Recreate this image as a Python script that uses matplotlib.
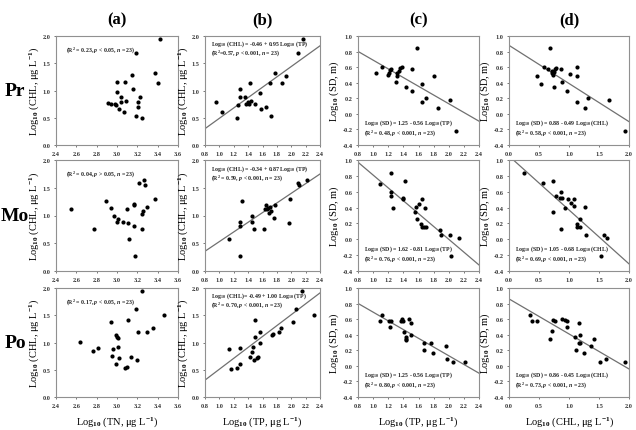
import matplotlib
matplotlib.use("Agg")
import matplotlib.pyplot as plt
import numpy as np

plt.rcParams['font.family'] = ['Liberation Serif', 'DejaVu Serif']
plt.rcParams['font.weight'] = 'bold'
plt.rcParams['mathtext.fontset'] = 'custom'
plt.rcParams['mathtext.rm'] = 'Liberation Serif:bold'
plt.rcParams['mathtext.it'] = 'Liberation Serif:italic:bold'
plt.rcParams['mathtext.bf'] = 'Liberation Serif:bold'

# ---- data ----
# Pr
pr_a_x = [2.91, 2.94, 2.98, 3.00, 3.00, 2.99, 3.02, 3.04, 3.04, 3.07, 3.08, 3.09, 3.15, 3.16, 3.19, 3.19, 3.21, 3.21, 3.23, 3.25, 3.37, 3.40, 3.42]
pr_a_y = [0.77, 0.76, 0.76, 1.15, 0.97, 0.73, 0.66, 0.88, 0.79, 0.61, 1.15, 0.81, 1.28, 1.03, 1.68, 0.54, 0.70, 0.79, 0.88, 0.49, 1.32, 1.14, 1.95]
pr_b_x = [0.95, 1.03, 1.25, 1.26, 1.28, 1.29, 1.36, 1.37, 1.40, 1.41, 1.43, 1.44, 1.49, 1.57, 1.58, 1.65, 1.70, 1.72, 1.77, 1.87, 1.93, 2.09, 2.17]
pr_b_y = [0.79, 0.61, 0.49, 0.73, 1.02, 0.88, 0.88, 0.76, 0.78, 0.76, 1.14, 0.81, 0.76, 0.96, 0.66, 0.70, 1.13, 0.54, 1.32, 1.14, 1.27, 1.68, 1.95]
pr_c_x = [1.04, 1.12, 1.20, 1.21, 1.22, 1.23, 1.30, 1.31, 1.32, 1.34, 1.36, 1.38, 1.43, 1.51, 1.52, 1.58, 1.65, 1.64, 1.70, 1.80, 1.86, 2.01, 2.09]
pr_c_y = [0.53, 0.60, 0.50, 0.53, 0.56, 0.58, 0.41, 0.49, 0.52, 0.55, 0.59, 0.60, 0.34, 0.30, 0.58, 0.85, 0.38, 0.15, 0.20, 0.49, 0.08, 0.18, -0.22]
pr_d_x = [0.47, 0.53, 0.59, 0.65, 0.68, 0.71, 0.72, 0.73, 0.75, 0.77, 0.79, 0.75, 0.87, 0.88, 0.96, 1.01, 1.13, 1.13, 1.13, 1.27, 1.32, 1.67, 1.94]
pr_d_y = [0.49, 0.38, 0.60, 0.58, 0.85, 0.55, 0.53, 0.50, 0.54, 0.57, 0.59, 0.34, 0.58, 0.41, 0.30, 0.51, 0.60, 0.49, 0.15, 0.08, 0.20, 0.18, -0.22]

# Mo
mo_a_x = [2.55, 2.77, 2.89, 2.94, 2.97, 3.00, 3.01, 3.06, 3.10, 3.11, 3.12, 3.17, 3.17, 3.17, 3.18, 3.22, 3.25, 3.25, 3.26, 3.27, 3.28, 3.30, 3.37]
mo_a_y = [1.11, 0.76, 1.26, 1.13, 0.99, 0.89, 0.94, 0.88, 1.11, 0.87, 0.57, 0.81, 1.19, 1.20, 0.27, 1.58, 1.03, 0.75, 1.09, 1.64, 1.55, 1.15, 1.30]
mo_b_x = [1.13, 1.28, 1.29, 1.28, 1.31, 1.45, 1.46, 1.48, 1.62, 1.63, 1.65, 1.66, 1.68, 1.69, 1.70, 1.72, 1.76, 1.77, 1.97, 1.98, 2.10, 2.11, 2.22]
mo_b_y = [0.57, 0.89, 0.81, 0.27, 1.26, 0.88, 0.99, 0.76, 0.75, 1.11, 1.19, 1.11, 1.13, 1.04, 1.15, 1.09, 0.95, 1.19, 0.87, 1.30, 1.58, 1.55, 1.64]
mo_c_x = [1.09, 1.23, 1.23, 1.23, 1.26, 1.39, 1.40, 1.42, 1.55, 1.57, 1.58, 1.61, 1.63, 1.65, 1.65, 1.67, 1.68, 1.70, 1.88, 1.90, 2.01, 2.03, 2.13]
mo_c_y = [0.70, 0.83, 0.60, 0.54, 0.40, 0.52, 0.51, 0.73, 0.35, 0.41, 0.26, 0.45, 0.19, 0.51, 0.16, 0.16, 0.39, 0.16, 0.12, 0.05, 0.05, -0.21, 0.01]
mo_d_x = [0.25, 0.56, 0.74, 0.74, 0.79, 0.85, 0.87, 0.86, 0.88, 0.93, 0.99, 1.03, 1.08, 1.09, 1.13, 1.14, 1.18, 1.19, 1.26, 1.29, 1.54, 1.59, 1.64]
mo_d_y = [0.84, 0.71, 0.73, 0.35, 0.54, 0.52, 0.60, 0.13, 0.52, 0.39, 0.51, 0.46, 0.51, 0.42, 0.19, 0.16, 0.26, 0.16, 0.41, 0.05, -0.21, 0.05, 0.01]

# Po
po_a_x = [2.64, 2.76, 2.81, 2.94, 2.95, 2.96, 2.99, 3.00, 2.99, 3.01, 3.01, 3.02, 3.08, 3.10, 3.11, 3.14, 3.19, 3.20, 3.21, 3.25, 3.30, 3.35, 3.46]
po_a_y = [1.01, 0.84, 0.90, 1.37, 0.76, 0.88, 1.14, 1.11, 0.61, 0.92, 1.09, 0.72, 0.53, 0.55, 1.42, 0.73, 1.62, 0.67, 1.20, 1.94, 1.19, 1.26, 1.51]
po_b_x = [1.13, 1.16, 1.25, 1.28, 1.28, 1.43, 1.46, 1.47, 1.48, 1.50, 1.50, 1.52, 1.54, 1.56, 1.57, 1.73, 1.75, 1.83, 1.86, 2.03, 2.06, 2.15, 2.31]
po_b_y = [0.88, 0.51, 0.54, 0.60, 0.90, 0.74, 0.83, 0.91, 0.68, 1.42, 1.10, 0.71, 0.74, 1.20, 1.00, 1.14, 1.16, 1.19, 1.26, 1.37, 1.62, 1.94, 1.51]
po_c_x = [1.09, 1.12, 1.21, 1.22, 1.23, 1.37, 1.38, 1.40, 1.41, 1.43, 1.44, 1.43, 1.47, 1.50, 1.50, 1.67, 1.67, 1.76, 1.79, 1.96, 1.98, 2.06, 2.21]
po_c_y = [0.58, 0.65, 0.57, 0.50, 0.57, 0.58, 0.60, 0.58, 0.44, 0.35, 0.37, 0.33, 0.60, 0.55, 0.39, 0.21, 0.29, 0.29, 0.16, 0.26, 0.09, 0.05, 0.05]
po_d_x = [0.35, 0.39, 0.46, 0.68, 0.72, 0.73, 0.76, 0.89, 0.93, 0.96, 0.97, 1.16, 1.10, 1.12, 1.16, 1.18, 1.19, 1.25, 1.36, 1.42, 1.51, 1.62, 1.94]
po_d_y = [0.65, 0.57, 0.57, 0.35, 0.45, 0.59, 0.57, 0.60, 0.59, 0.58, 0.50, 0.55, 0.37, 0.21, 0.29, 0.29, 0.39, 0.16, 0.26, 0.34, 0.05, 0.09, 0.05]

# regression lines (intercept, slope), None = no line
pr_fit = [None, (-0.46, 0.95), (1.25, -0.56), (0.88, -0.49)]
mo_fit = [None, (-0.34, 0.87), (1.62, -0.81), (1.05, -0.68)]
po_fit = [None, (-0.49, 1.00), (1.25, -0.56), (0.86, -0.45)]

pr_text = [["(R$^2$ = 0.23, $p$ < 0.05, $n$ = 23)"],
           ["Log$_{10}$ (CHL) = -0.46 + 0.95 Log$_{10}$ (TP)", "(R$^2$=0.57, $p$ < 0.001, $n$ = 23)"],
           ["Log$_{10}$ (SD) = 1.25 - 0.56 Log$_{10}$ (TP)", "(R$^2$ = 0.48, $p$ < 0.001, $n$ = 23)"],
           ["Log$_{10}$ (SD) = 0.88 - 0.49 Log$_{10}$ (CHL)", "(R$^2$ = 0.58, $p$ < 0.001, $n$ = 23)"]]
mo_text = [["(R$^2$ = 0.04, $p$ > 0.05, $n$ = 23)"],
           ["Log$_{10}$ (CHL) = -0.34 + 0.87 Log$_{10}$ (TP)", "(R$^2$ = 0.59, $p$ < 0.001, $n$ = 23)"],
           ["Log$_{10}$ (SD) = 1.62 - 0.81 Log$_{10}$ (TP)", "(R$^2$ = 0.76, $p$ < 0.001, $n$ = 23)"],
           ["Log$_{10}$ (SD) = 1.05 - 0.68 Log$_{10}$ (CHL)", "(R$^2$ = 0.69, $p$ < 0.001, $n$ = 23)"]]
po_text = [["(R$^2$ = 0.17, $p$ < 0.05, $n$ = 23)"],
           ["Log$_{10}$ (CHL)= -0.49 + 1.00 Log$_{10}$ (TP)", "(R$^2$ = 0.70, $p$ < 0.001, $n$ = 23)"],
           ["Log$_{10}$ (SD) = 1.25 - 0.56 Log$_{10}$ (TP)", "(R$^2$ = 0.80, $p$ < 0.001, $n$ = 23)"],
           ["Log$_{10}$ (SD) = 0.86 - 0.45 Log$_{10}$ (CHL)", "(R$^2$ = 0.73, $p$ < 0.001, $n$ = 23)"]]

rows = ["Pr", "Mo", "Po"]
cols = ["(a)", "(b)", "(c)", "(d)"]
xlabels = ["Log$_{10}$ (TN, μg L$^{-1}$)", "Log$_{10}$ (TP, μg L$^{-1}$)",
           "Log$_{10}$ (TP, μg L$^{-1}$)", "Log$_{10}$ (CHL, μg L$^{-1}$)"]
ylabels = ["Log$_{10}$ (CHL, μg L$^{-1}$)", "Log$_{10}$ (CHL, μg L$^{-1}$)",
           "Log$_{10}$ (SD, m)", "Log$_{10}$ (SD, m)"]

data = [
    [(pr_a_x, pr_a_y), (pr_b_x, pr_b_y), (pr_c_x, pr_c_y), (pr_d_x, pr_d_y)],
    [(mo_a_x, mo_a_y), (mo_b_x, mo_b_y), (mo_c_x, mo_c_y), (mo_d_x, mo_d_y)],
    [(po_a_x, po_a_y), (po_b_x, po_b_y), (po_c_x, po_c_y), (po_d_x, po_d_y)],
]
fits = [pr_fit, mo_fit, po_fit]
texts = [pr_text, mo_text, po_text]

xlims = [(2.4, 3.6), (0.8, 2.4), (0.8, 2.4), (0.0, 2.0)]
ylims = [(0, 2.0), (0, 2.0), (-0.4, 1.0), (-0.4, 1.0)]
xticks = [np.arange(2.4, 3.61, 0.2), np.arange(0.8, 2.41, 0.2), np.arange(0.8, 2.41, 0.2), np.arange(0, 2.01, 0.5)]
yticks = [np.arange(0, 2.01, 0.5), np.arange(0, 2.01, 0.5), np.arange(-0.4, 1.01, 0.2), np.arange(-0.4, 1.01, 0.2)]

# axes boxes in pixels (left, right) and (top, bottom)
W, H = 636, 431
col_px = [(56, 178), (205, 320), (358, 479), (509, 629)]
row_px = [(37, 146), (161, 272), (289, 398)]

fig = plt.figure(figsize=(W / 100, H / 100), dpi=100)

for i in range(3):
    for j in range(4):
        l, r = col_px[j]
        t, b = row_px[i]
        ax = fig.add_axes([l / W, 1 - b / H, (r - l) / W, (b - t) / H])
        x, y = data[i][j]
        ax.scatter(x, y, s=9, c='black', zorder=3, linewidths=0)
        if fits[i][j] is not None:
            a0, a1 = fits[i][j]
            xx = np.array(xlims[j])
            ax.plot(xx, a0 + a1 * xx, color='#707070', lw=0.9)
        ax.set_xlim(xlims[j])
        ax.set_ylim(ylims[j])
        ax.set_xticks(xticks[j])
        ax.set_yticks(yticks[j])
        ax.xaxis.set_major_formatter(plt.FormatStrFormatter('%.1f'))
        ax.yaxis.set_major_formatter(plt.FormatStrFormatter('%.1f'))
        ax.tick_params(labelsize=4.5, length=1.5, width=0.5, pad=2.5, colors='#444444',
                       labelcolor='#333333')
        for sp in ax.spines.values():
            sp.set_color('#909090')
            sp.set_linewidth(0.8)
        ax.set_ylabel(ylabels[j], fontsize=7.5, labelpad=1)
        if i == 2:
            ax.set_xlabel(xlabels[j], fontsize=7.5, labelpad=5)
        if i == 0:
            ax.set_title(cols[j], fontsize=12, fontweight='bold', pad=9)
        lines = texts[i][j]
        if j == 0:
            ys = [0.88]
        elif j == 1:
            ys = [0.93, 0.85]
        else:
            ys = [0.21, 0.12]
        for s, yy in zip(lines, ys):
            ax.text(0.05 if j != 0 else 0.08, yy, s, transform=ax.transAxes,
                    fontsize=4.2, va='center', ha='left', color='#222222')
    fig.text(15 / W, 1 - (row_px[i][0] + row_px[i][1]) / 2 / H, rows[i],
             fontsize=14, fontweight='bold', ha='center', va='center')

fig.savefig('out.png', dpi=100)
